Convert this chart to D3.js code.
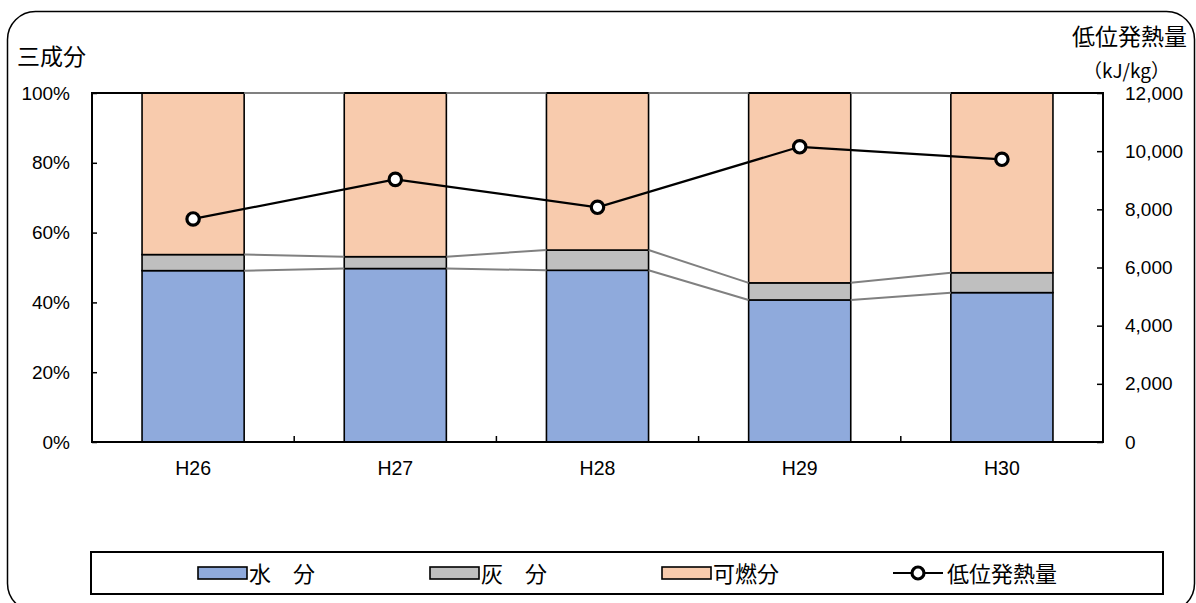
<!DOCTYPE html>
<html>
<head>
<meta charset="utf-8">
<script src="https://cdn.jsdelivr.net/npm/d3@7"></script>
<style>
  html, body { margin: 0; padding: 0; background: #fff; }
  svg { display: block; }
  .num { font-family: "Liberation Sans", Arial, sans-serif; }
  .jp { font-family: "Noto Sans CJK JP", sans-serif; }
</style>
</head>
<body>
<svg id="chart" width="1196" height="603"></svg>
<script>
// 年度
const categories = ["H26", "H27", "H28", "H29", "H30"];
// 三成分 (%)
const water = [49.1, 49.7, 49.2, 40.7, 42.8];
const ash = [4.6, 3.4, 5.8, 4.9, 5.7];
const combustible = [46.3, 46.9, 45.0, 54.4, 51.5];
// 低位発熱量 (kJ/kg)
const heatValue = [7670, 9030, 8070, 10150, 9720];
// 目盛
const pctTicks = [0, 20, 40, 60, 80, 100];
const heatTicks = [0, 2000, 4000, 6000, 8000, 10000, 12000];

const seriesNames = ["水　分", "灰　分", "可燃分"];
const seriesColors = ["#8FAADC", "#BFBFBF", "#F8CBAD"];

const svg = d3.select("#chart");

// outer rounded frame
svg.append("rect")
  .attr("x", 7.5).attr("y", 11.5)
  .attr("width", 1187).attr("height", 600)
  .attr("rx", 28).attr("ry", 28)
  .attr("fill", "#fff").attr("stroke", "#000").attr("stroke-width", 1.5);

const plot = { left: 92, right: 1103, top: 93, bottom: 442 };

const x = d3.scaleBand().domain(categories).range([plot.left, plot.right]).paddingInner(0).paddingOuter(0);
const bw = x.bandwidth() * 0.505;
const barX = c => x(c) + (x.bandwidth() - bw) / 2;
const yPct = d3.scaleLinear().domain([0, 100]).range([plot.bottom, plot.top]);
const yHeat = d3.scaleLinear().domain([0, 12000]).range([plot.bottom, plot.top]);

// stacked segments
const rows = categories.map((c, i) => ({ cat: c, s0: water[i], s1: ash[i], s2: combustible[i] }));
const stack = d3.stack().keys(["s0", "s1", "s2"])(rows);

const gBars = svg.append("g");
stack.forEach((layer, k) => {
  gBars.selectAll(null).data(layer).enter().append("rect")
    .attr("x", d => barX(d.data.cat))
    .attr("y", d => yPct(d[1]))
    .attr("width", bw)
    .attr("height", d => yPct(d[0]) - yPct(d[1]))
    .attr("fill", seriesColors[k])
    .attr("stroke", "#000").attr("stroke-width", 1.6);
});

// plot-area border
svg.append("rect")
  .attr("x", plot.left).attr("y", plot.top)
  .attr("width", plot.right - plot.left).attr("height", plot.bottom - plot.top)
  .attr("fill", "none").attr("stroke", "#000").attr("stroke-width", 2);

// series lines linking the stacked segment tops
stack.forEach(layer => {
  for (let i = 0; i < layer.length - 1; i++) {
    const a = layer[i], b = layer[i + 1];
    svg.append("line")
      .attr("x1", barX(a.data.cat) + bw).attr("y1", yPct(a[1]))
      .attr("x2", barX(b.data.cat)).attr("y2", yPct(b[1]))
      .attr("stroke", "#808080").attr("stroke-width", 2);
  }
});

// left axis
const leftAxis = d3.axisLeft(yPct).tickValues(pctTicks).tickSize(-5).tickPadding(22).tickFormat(d => d + "%");
const gL = svg.append("g").attr("transform", `translate(${plot.left},0)`).call(leftAxis);
gL.select(".domain").remove();
gL.selectAll(".tick line").attr("stroke", "#000").attr("stroke-width", 1.5);
gL.selectAll(".tick text").attr("class", "num").attr("font-size", 19).attr("fill", "#000");

// right axis
const rightAxis = d3.axisRight(yHeat).tickValues(heatTicks).tickSize(-6).tickPadding(22).tickFormat(d3.format(","));
const gR = svg.append("g").attr("transform", `translate(${plot.right},0)`).call(rightAxis);
gR.select(".domain").remove();
gR.selectAll(".tick line").attr("stroke", "#000").attr("stroke-width", 1.5);
gR.selectAll(".tick text").attr("class", "num").attr("font-size", 19).attr("fill", "#000");

// bottom axis: ticks at category boundaries
const bounds = categories.slice(1).map(c => x(c));
svg.append("g").selectAll("line").data(bounds).enter().append("line")
  .attr("x1", d => d).attr("x2", d => d)
  .attr("y1", plot.bottom).attr("y2", plot.bottom - 6)
  .attr("stroke", "#000").attr("stroke-width", 1.5);
svg.append("g").selectAll("text").data(categories).enter().append("text")
  .attr("class", "num")
  .attr("x", d => x(d) + x.bandwidth() / 2).attr("y", 475)
  .attr("text-anchor", "middle").attr("font-size", 19.5).attr("fill", "#000")
  .text(d => d);

// 低位発熱量 line
const line = d3.line().x((d, i) => x(categories[i]) + x.bandwidth() / 2).y(d => yHeat(d));
svg.append("path").datum(heatValue)
  .attr("d", line).attr("fill", "none").attr("stroke", "#000").attr("stroke-width", 2.2);
svg.append("g").selectAll("circle").data(heatValue).enter().append("circle")
  .attr("cx", (d, i) => x(categories[i]) + x.bandwidth() / 2)
  .attr("cy", d => yHeat(d))
  .attr("r", 6.2)
  .attr("fill", "#fff").attr("stroke", "#000").attr("stroke-width", 3.2);

// axis titles
svg.append("text").attr("class", "jp")
  .attr("x", 17).attr("y", 65).attr("font-size", 23).attr("fill", "#000")
  .text("三成分");
svg.append("text").attr("class", "jp")
  .attr("x", 1187).attr("y", 45).attr("text-anchor", "end").attr("font-size", 23).attr("fill", "#000")
  .text("低位発熱量");
svg.append("text").attr("class", "jp")
  .attr("x", 1170).attr("y", 78).attr("text-anchor", "end").attr("font-size", 19).attr("fill", "#000")
  .text("（kJ/kg）");

// legend
svg.append("rect")
  .attr("x", 91).attr("y", 552).attr("width", 1072).attr("height", 42)
  .attr("fill", "#fff").attr("stroke", "#000").attr("stroke-width", 2);
const legendSwatchX = [198, 430, 662];
seriesNames.forEach((name, k) => {
  svg.append("rect")
    .attr("x", legendSwatchX[k]).attr("y", 567)
    .attr("width", 49).attr("height", 12)
    .attr("fill", seriesColors[k]).attr("stroke", "#000").attr("stroke-width", 1.6);
  svg.append("text").attr("class", "jp")
    .attr("x", legendSwatchX[k] + 51).attr("y", 582)
    .attr("font-size", 22).attr("fill", "#000")
    .text(name);
});
svg.append("line")
  .attr("x1", 893).attr("x2", 943).attr("y1", 573).attr("y2", 573)
  .attr("stroke", "#000").attr("stroke-width", 2.2);
svg.append("circle")
  .attr("cx", 918).attr("cy", 573).attr("r", 6)
  .attr("fill", "#fff").attr("stroke", "#000").attr("stroke-width", 3.2);
svg.append("text").attr("class", "jp")
  .attr("x", 947).attr("y", 582)
  .attr("font-size", 22).attr("fill", "#000")
  .text("低位発熱量");
</script>
</body>
</html>
